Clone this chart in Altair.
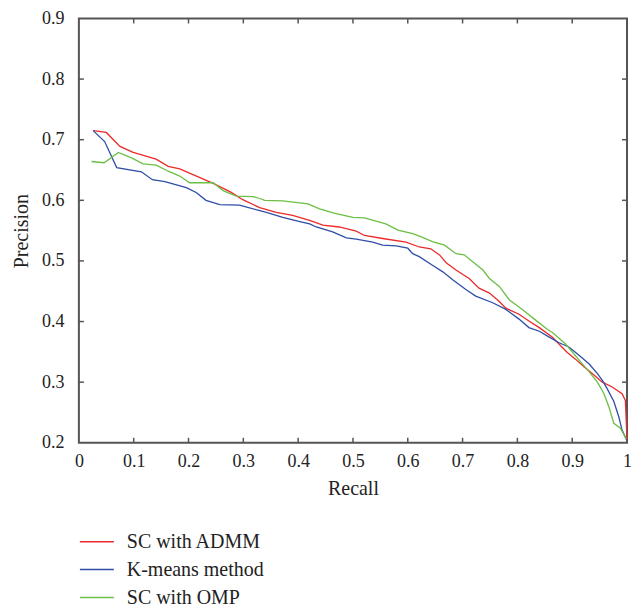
import altair as alt
import pandas as pd

# ---- data ----
admm_recall = [0.026, 0.05, 0.075, 0.099, 0.141, 0.163, 0.184, 0.245, 0.278, 0.299, 0.33, 0.36, 0.39,
               0.421, 0.445, 0.475, 0.506, 0.521, 0.554, 0.597, 0.621, 0.642, 0.658, 0.67, 0.688, 0.712,
               0.73, 0.749, 0.767, 0.779, 0.803, 0.821, 0.84, 0.864, 0.879, 0.891, 0.906, 0.922, 0.937,
               0.955, 0.973, 0.991, 0.997, 0.999, 1.0]
admm_precision = [0.715, 0.712, 0.689, 0.679, 0.668, 0.656, 0.652, 0.628, 0.613, 0.601, 0.588, 0.58, 0.575,
                  0.567, 0.559, 0.556, 0.549, 0.542, 0.537, 0.531, 0.523, 0.52, 0.51, 0.497, 0.485, 0.471,
                  0.455, 0.447, 0.433, 0.422, 0.412, 0.401, 0.39, 0.374, 0.36, 0.349, 0.338, 0.325, 0.314,
                  0.3, 0.292, 0.281, 0.27, 0.227, 0.205]

kmeans_recall = [0.026, 0.047, 0.069, 0.114, 0.134, 0.157, 0.196, 0.214, 0.232, 0.257, 0.293, 0.33, 0.342,
                 0.372, 0.403, 0.421, 0.433, 0.463, 0.488, 0.506, 0.536, 0.554, 0.579, 0.6, 0.609, 0.621,
                 0.645, 0.664, 0.682, 0.706, 0.724, 0.755, 0.779, 0.803, 0.821, 0.84, 0.855, 0.876, 0.894,
                 0.913, 0.931, 0.946, 0.955, 0.964, 0.976, 0.985, 0.991, 0.999]
kmeans_precision = [0.715, 0.697, 0.654, 0.647, 0.634, 0.631, 0.621, 0.613, 0.6, 0.593, 0.592, 0.583, 0.58,
                    0.572, 0.565, 0.561, 0.556, 0.548, 0.538, 0.536, 0.531, 0.526, 0.525, 0.521, 0.512, 0.507,
                    0.493, 0.482, 0.469, 0.453, 0.442, 0.431, 0.42, 0.404, 0.39, 0.384, 0.376, 0.365, 0.358,
                    0.344, 0.33, 0.314, 0.303, 0.289, 0.268, 0.243, 0.221, 0.205]

omp_recall = [0.023, 0.046, 0.072, 0.096, 0.117, 0.141, 0.163, 0.184, 0.202, 0.245, 0.263, 0.287, 0.318,
              0.33, 0.339, 0.372, 0.418, 0.439, 0.469, 0.5, 0.521, 0.56, 0.582, 0.609, 0.627, 0.645, 0.667,
              0.688, 0.703, 0.718, 0.737, 0.749, 0.767, 0.785, 0.809, 0.831, 0.855, 0.864, 0.888, 0.913,
              0.931, 0.946, 0.958, 0.967, 0.976, 0.988, 0.999]
omp_precision = [0.664, 0.662, 0.679, 0.67, 0.66, 0.658, 0.648, 0.64, 0.629, 0.629, 0.616, 0.607, 0.606,
                 0.603, 0.6, 0.599, 0.594, 0.586, 0.578, 0.572, 0.571, 0.561, 0.551, 0.545, 0.539, 0.532, 0.526,
                 0.512, 0.51, 0.499, 0.485, 0.471, 0.458, 0.436, 0.42, 0.404, 0.387, 0.382, 0.363, 0.336,
                 0.317, 0.3, 0.281, 0.259, 0.232, 0.224, 0.206]

series_names = ["SC with ADMM", "K-means method", "SC with OMP"]
series_colors = ["#ec2a2a", "#2f4ea6", "#6bbf45"]
x_ticks = [0, 0.1, 0.2, 0.3, 0.4, 0.5, 0.6, 0.7, 0.8, 0.9, 1]
y_ticks = [0.2, 0.3, 0.4, 0.5, 0.6, 0.7, 0.8, 0.9]

rows = []
for name, xs, ys in [(series_names[0], admm_recall, admm_precision),
                     (series_names[1], kmeans_recall, kmeans_precision),
                     (series_names[2], omp_recall, omp_precision)]:
    for i, (a, b) in enumerate(zip(xs, ys)):
        rows.append({"method": name, "recall": a, "precision": b, "order": i})
df = pd.DataFrame(rows)
xt = pd.DataFrame({"t": x_ticks[1:-1]})
yt = pd.DataFrame({"t": y_ticks[1:-1]})

W, H = 549, 425
TK = 5
FONT = "Liberation Serif"
AX = "#555555"
TXT = "#222222"

xscale = alt.Scale(domain=[0, 1], nice=False, zero=False)
yscale = alt.Scale(domain=[0.2, 0.9], nice=False, zero=False)

lines = alt.Chart(df).mark_line(strokeWidth=1.3).encode(
    x=alt.X("recall:Q", scale=xscale,
            axis=alt.Axis(values=x_ticks, format="~g", domain=False, grid=False, ticks=False,
                          labelPadding=10, labelBaseline="top",
                          labelFlush=False, labelFont=FONT, labelFontSize=18, labelColor=TXT,
                          title="Recall", titleFont=FONT, titleFontSize=20, titleFontWeight="normal",
                          titleColor=TXT, titleY=36, titleBaseline="top")),
    y=alt.Y("precision:Q", scale=yscale,
            axis=alt.Axis(values=y_ticks, format=".1f", domain=False, grid=False, ticks=False,
                          labelPadding=15, labelAlign="right",
                          labelBaseline="middle", labelFlush=False, labelFont=FONT, labelFontSize=18,
                          labelColor=TXT,
                          title="Precision", titleFont=FONT, titleFontSize=20, titleFontWeight="normal",
                          titleColor=TXT, titleAngle=270, titleX=-57, titleY=H / 2,
                          titleAlign="center", titleBaseline="middle")),
    color=alt.Color("method:N", scale=alt.Scale(domain=series_names, range=series_colors),
                    legend=alt.Legend(title=None, orient="none", legendX=0, legendY=506,
                                      symbolType="stroke", symbolSize=1156, symbolStrokeWidth=1.5,
                                      labelFont=FONT, labelFontSize=20, labelColor=TXT,
                                      labelOffset=12, rowPadding=-2.5, padding=0)),
    order="order:Q",
)

tick_style = dict(color=AX, strokeWidth=1.5)
bottom_ticks = alt.Chart(xt).mark_rule(**tick_style).encode(
    x=alt.X("t:Q", scale=xscale), y=alt.value(H), y2=alt.value(H - TK))
top_ticks = alt.Chart(xt).mark_rule(**tick_style).encode(
    x=alt.X("t:Q", scale=xscale), y=alt.value(0), y2=alt.value(TK))
left_ticks = alt.Chart(yt).mark_rule(**tick_style).encode(
    y=alt.Y("t:Q", scale=yscale), x=alt.value(0), x2=alt.value(TK))
right_ticks = alt.Chart(yt).mark_rule(**tick_style).encode(
    y=alt.Y("t:Q", scale=yscale), x=alt.value(W), x2=alt.value(W - TK))

chart = alt.layer(bottom_ticks, top_ticks, left_ticks, right_ticks, lines).properties(
    width=W, height=H,
    autosize=alt.AutoSizeParams(type="none"),
    padding={"left": 71, "top": 10, "right": 8, "bottom": 165},
).configure_view(stroke=AX, strokeWidth=2)

chart.save("out.html", embed_options={"renderer": "svg", "actions": False})
